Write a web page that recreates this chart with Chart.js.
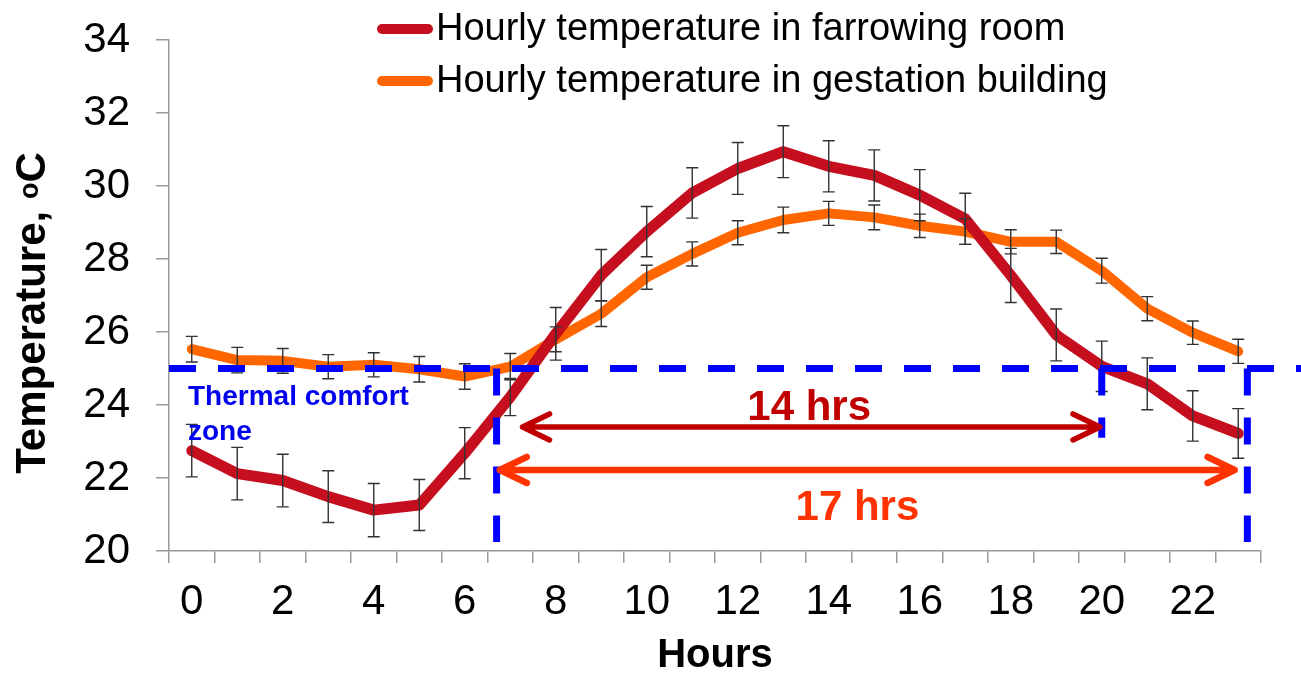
<!DOCTYPE html>
<html>
<head>
<meta charset="utf-8">
<script src="https://cdn.jsdelivr.net/npm/chart.js@4.4.1/dist/chart.umd.min.js"></script>
<style>
  html, body { margin: 0; padding: 0; background: #fff; }
  #wrap { width: 1301px; height: 675px; }
</style>
</head>
<body>
<div id="wrap"><canvas id="tempChart" width="1301" height="675"></canvas></div>
<script>
// Hourly temperature, farrowing room vs gestation building
const hours = ['0', '1', '2', '3', '4', '5', '6', '7', '8', '9', '10', '11',
               '12', '13', '14', '15', '16', '17', '18', '19', '20', '21', '22', '23'];

const farrowing = [22.75, 22.12, 21.93, 21.49, 21.12, 21.26, 22.68, 24.22, 25.95, 27.56, 28.75, 29.81,
                   30.48, 30.94, 30.54, 30.29, 29.75, 29.10, 27.55, 25.92, 25.06, 24.58, 23.70, 23.22];
const farrowingErr = [0.72, 0.72, 0.72, 0.71, 0.73, 0.70, 0.70, 0.51, 0.72, 0.70, 0.69, 0.69,
                      0.71, 0.71, 0.70, 0.70, 0.70, 0.70, 0.74, 0.71, 0.69, 0.71, 0.69, 0.68];

const gestation = [25.53, 25.23, 25.21, 25.05, 25.10, 24.98, 24.78, 25.05, 25.80, 26.50, 27.50, 28.14,
                   28.72, 29.07, 29.25, 29.14, 28.91, 28.75, 28.47, 28.47, 27.68, 26.64, 25.98, 25.47];
const gestationErr = [0.35, 0.35, 0.34, 0.33, 0.33, 0.35, 0.35, 0.36, 0.34, 0.35, 0.33, 0.33,
                      0.33, 0.35, 0.33, 0.34, 0.32, 0.35, 0.33, 0.32, 0.34, 0.33, 0.32, 0.33];

const seriesNames = ['Hourly temperature in farrowing room', 'Hourly temperature in gestation building'];
const yTicks = [20, 22, 24, 26, 28, 30, 32, 34];

// thermal comfort annotation (hour index / °C)
const comfortTemp = 25;
const comfortStartHour = 6.7;
const farrowingEndHour = 20;
const gestationEndHour = 23.2;

const FONT = "'Liberation Sans', Arial, sans-serif";
const RED = '#C50F1F';
const ORANGE = '#FF6600';

const errorBars = {
    id: 'errorBars',
    afterDatasetsDraw(chart) {
        const ctx = chart.ctx, x = chart.scales.x, y = chart.scales.y;
        ctx.save();
        ctx.strokeStyle = '#333';
        ctx.lineWidth = 1.4;
        chart.data.datasets.forEach(ds => {
            ds.data.forEach((v, i) => {
                const px = x.getPixelForValue(i);
                const top = y.getPixelForValue(v + ds.errors[i]);
                const bot = y.getPixelForValue(v - ds.errors[i]);
                ctx.beginPath();
                ctx.moveTo(px, top); ctx.lineTo(px, bot);
                ctx.moveTo(px - 6, top); ctx.lineTo(px + 6, top);
                ctx.moveTo(px - 6, bot); ctx.lineTo(px + 6, bot);
                ctx.stroke();
            });
        });
        ctx.restore();
    }
};

function drawArrow(ctx, x1, x2, yy, color, width) {
    ctx.strokeStyle = color;
    ctx.lineWidth = width;
    ctx.lineCap = 'round';
    ctx.lineJoin = 'round';
    ctx.beginPath();
    ctx.moveTo(x1, yy); ctx.lineTo(x2, yy);
    ctx.moveTo(x1 + 27, yy - 13); ctx.lineTo(x1, yy); ctx.lineTo(x1 + 27, yy + 13);
    ctx.moveTo(x2 - 27, yy - 13); ctx.lineTo(x2, yy); ctx.lineTo(x2 - 27, yy + 13);
    ctx.stroke();
}

const annotations = {
    id: 'annotations',
    afterDraw(chart) {
        const ctx = chart.ctx, x = chart.scales.x, y = chart.scales.y, area = chart.chartArea;
        ctx.save();

        // comfort zone dashed lines
        const yc = y.getPixelForValue(comfortTemp);
        ctx.strokeStyle = '#0000FF';
        ctx.lineWidth = 7;
        ctx.setLineDash([27, 22]);
        ctx.beginPath();
        ctx.moveTo(area.left, yc); ctx.lineTo(chart.width, yc);
        ctx.stroke();
        [[comfortStartHour, 20.25], [farrowingEndHour, 23.1], [gestationEndHour, 20.25]].forEach(([h, v]) => {
            const px = x.getPixelForValue(h);
            ctx.beginPath();
            ctx.moveTo(px, yc); ctx.lineTo(px, y.getPixelForValue(v));
            ctx.stroke();
        });
        ctx.setLineDash([]);

        // duration arrows
        drawArrow(ctx, x.getPixelForValue(7.27), x.getPixelForValue(19.96), y.getPixelForValue(23.4), '#C00000', 5.5);
        drawArrow(ctx, x.getPixelForValue(6.77), x.getPixelForValue(22.92), y.getPixelForValue(22.22), '#FF3300', 6.5);

        ctx.textAlign = 'center';
        ctx.textBaseline = 'alphabetic';
        ctx.font = 'bold 42px ' + FONT;
        ctx.fillStyle = '#C00000';
        ctx.fillText('14 hrs', x.getPixelForValue(13.57), y.getPixelForValue(23.59));
        ctx.fillStyle = '#FF3300';
        ctx.fillText('17 hrs', x.getPixelForValue(14.63), y.getPixelForValue(20.85));

        ctx.textAlign = 'left';
        ctx.font = 'bold 28px ' + FONT;
        ctx.fillStyle = '#0000F0';
        ctx.fillText('Thermal comfort', 188, 405);
        ctx.fillText('zone', 188, 440);

        // legend
        const legendRows = [[RED, 29, 40], [ORANGE, 81, 92]];
        legendRows.forEach(([col, ly, base], i) => {
            ctx.strokeStyle = col;
            ctx.lineWidth = 10;
            ctx.lineCap = 'round';
            ctx.beginPath();
            ctx.moveTo(382, ly); ctx.lineTo(428, ly);
            ctx.stroke();
            ctx.fillStyle = '#000';
            ctx.font = '38px ' + FONT;
            ctx.fillText(seriesNames[i], 436, base);
        });

        // y axis title with superscript o
        ctx.translate(45, 313);
        ctx.rotate(-Math.PI / 2);
        ctx.fillStyle = '#000';
        ctx.font = 'bold 42px ' + FONT;
        const t1 = 'Temperature, ';
        const w1 = ctx.measureText(t1).width;
        ctx.font = 'bold 27px ' + FONT;
        const w2 = ctx.measureText('o').width;
        ctx.font = 'bold 42px ' + FONT;
        const w3 = ctx.measureText('C').width;
        let sx = -(w1 + w2 + w3) / 2;
        ctx.fillText(t1, sx, 0);
        ctx.font = 'bold 27px ' + FONT;
        ctx.fillText('o', sx + w1, -7);
        ctx.font = 'bold 42px ' + FONT;
        ctx.fillText('C', sx + w1 + w2, 0);

        ctx.restore();
    }
};

Chart.defaults.font.family = FONT;

new Chart(document.getElementById('tempChart').getContext('2d'), {
    type: 'line',
    data: {
        labels: hours,
        datasets: [
            { label: seriesNames[0], data: farrowing, errors: farrowingErr, borderColor: RED,
              borderWidth: 11, pointRadius: 0, tension: 0, borderJoinStyle: 'round', borderCapStyle: 'round' },
            { label: seriesNames[1], data: gestation, errors: gestationErr, borderColor: ORANGE,
              borderWidth: 10, pointRadius: 0, tension: 0, borderJoinStyle: 'round', borderCapStyle: 'round' }
        ]
    },
    options: {
        responsive: false,
        animation: false,
        devicePixelRatio: 1,
        layout: { padding: { left: 0, right: 40, top: 40, bottom: 0 } },
        plugins: { legend: { display: false }, tooltip: { enabled: false } },
        scales: {
            x: {
                offset: true,
                grid: { offset: true, drawOnChartArea: false, tickLength: 12, color: '#999', lineWidth: 1.5 },
                border: { color: '#999', width: 1.5 },
                ticks: {
                    autoSkip: false, maxRotation: 0, padding: 14, color: '#000',
                    font: { size: 42 },
                    callback: (v, i) => (i % 2 === 0 ? hours[i] : '')
                },
                title: { display: true, text: 'Hours', color: '#000',
                         font: { size: 40, weight: 'bold', lineHeight: 0.95 }, padding: 0 },
                afterFit: s => { s.height = 124; s.paddingLeft = 0; s.paddingRight = 0; }
            },
            y: {
                min: 20, max: 34,
                afterBuildTicks: s => { s.ticks = yTicks.map(v => ({ value: v })); },
                grid: { drawOnChartArea: false, tickLength: 13, color: '#999', lineWidth: 1.5 },
                border: { color: '#999', width: 1.5 },
                ticks: { padding: 26, color: '#000', font: { size: 42 } },
                afterFit: s => { s.width = 169; s.paddingTop = 0; s.paddingBottom = 0; }
            }
        }
    },
    plugins: [errorBars, annotations]
});
</script>
</body>
</html>
